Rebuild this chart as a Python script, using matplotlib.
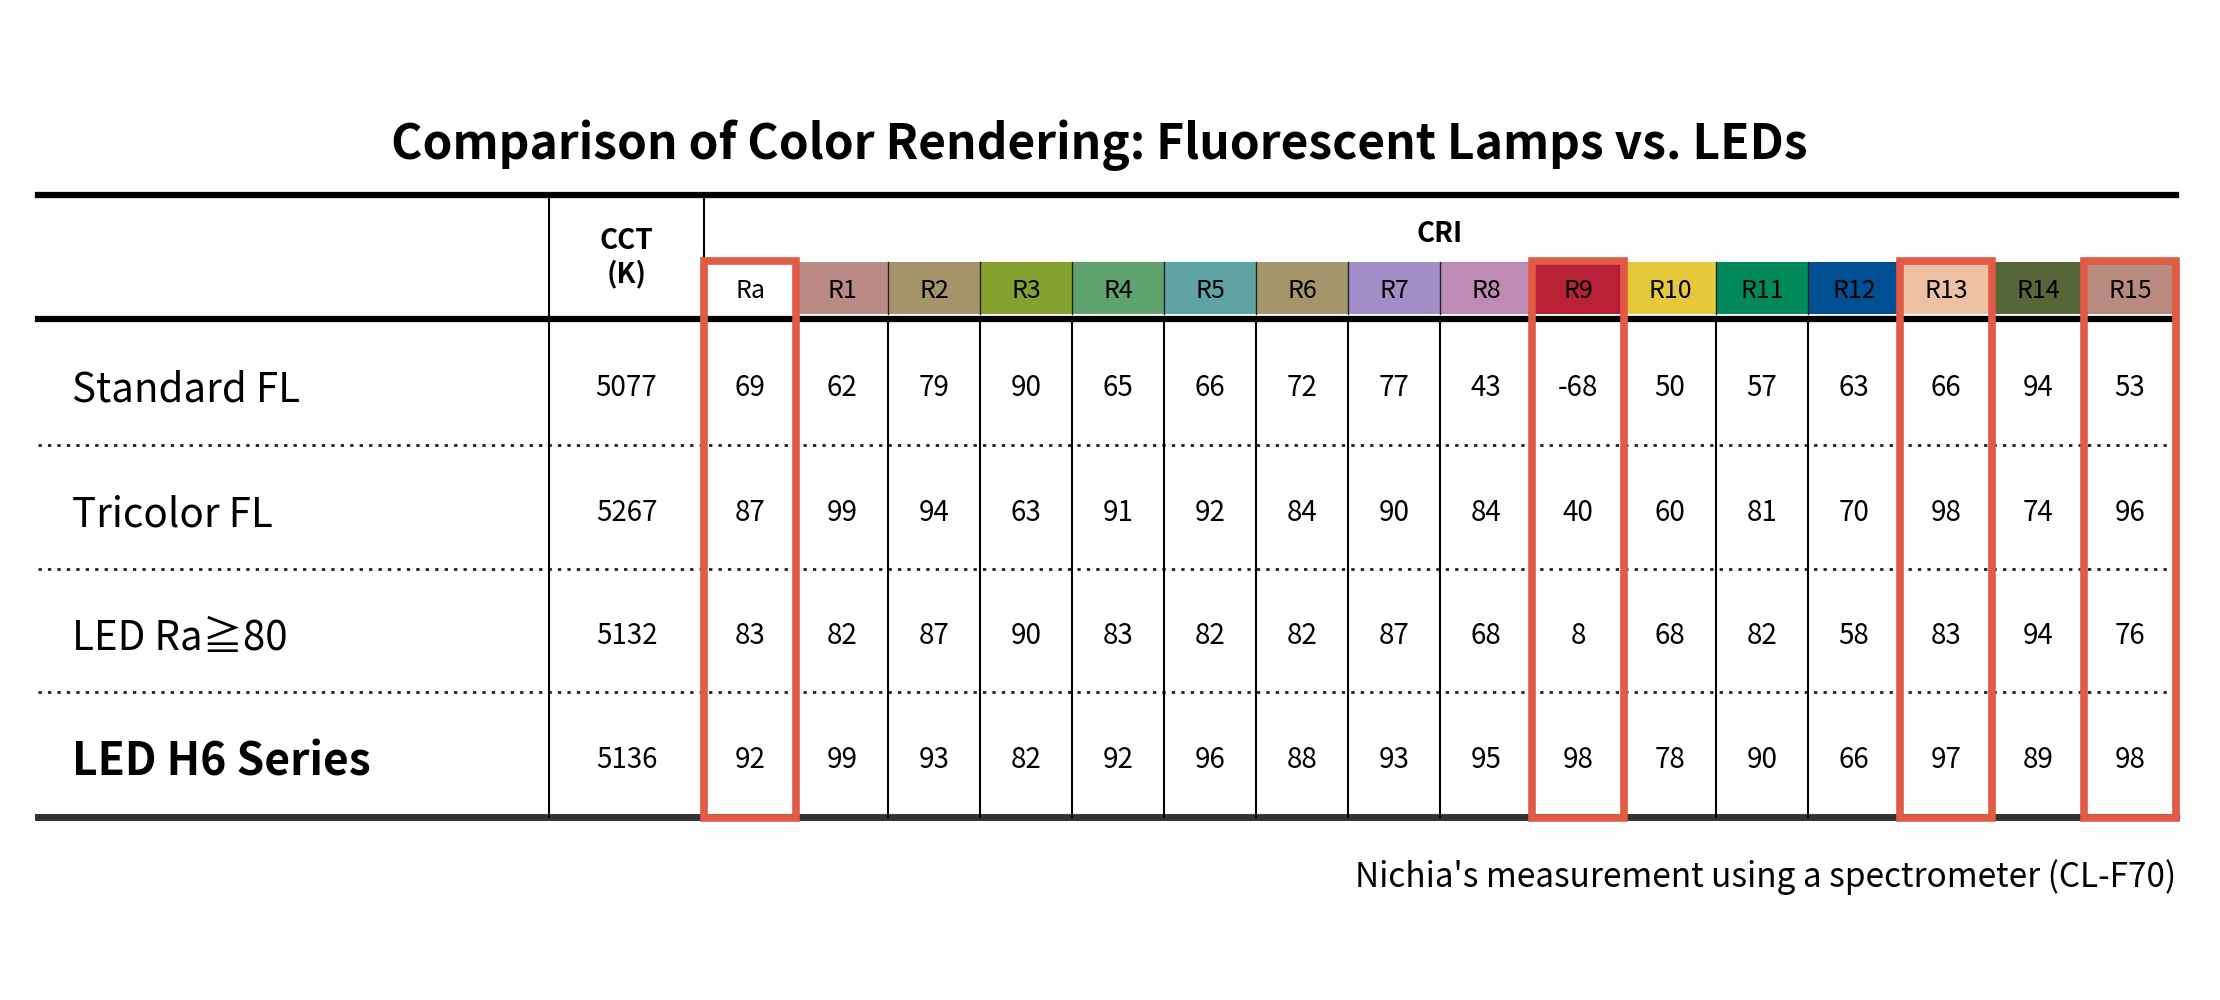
import matplotlib.pyplot as plt
from matplotlib.patches import Rectangle

plt.rcParams['font.family'] = ['Noto Sans CJK JP', 'DejaVu Sans']

# -------- Data --------
title = "Comparison of Color Rendering: Fluorescent Lamps vs. LEDs"
row_labels = ["Standard FL", "Tricolor FL", "LED Ra\u226780", "LED H6 Series"]
cct = [5077, 5267, 5132, 5136]
cri_labels = ["Ra", "R1", "R2", "R3", "R4", "R5", "R6", "R7", "R8",
              "R9", "R10", "R11", "R12", "R13", "R14", "R15"]
cri_colors = ["#ffffff", "#bb8a86", "#a5946a", "#85a22f", "#5fa26d", "#5fa3a4",
              "#a3966a", "#a18ec8", "#bd89b5", "#b82036", "#e6c83b", "#00895a",
              "#004f92", "#eec1a4", "#566639", "#b98a7e"]
cri_values = [
    [69, 62, 79, 90, 65, 66, 72, 77, 43, -68, 50, 57, 63, 66, 94, 53],
    [87, 99, 94, 63, 91, 92, 84, 90, 84, 40, 60, 81, 70, 98, 74, 96],
    [83, 82, 87, 90, 83, 82, 82, 87, 68, 8, 68, 82, 58, 83, 94, 76],
    [92, 99, 93, 82, 92, 96, 88, 93, 95, 98, 78, 90, 66, 97, 89, 98],
]
highlight = ["Ra", "R9", "R13", "R15"]
footnote = "Nichia's measurement using a spectrometer (CL-F70)"

# -------- Layout (pixels) --------
W, H = 2220, 1000
left, right = 38, 2176
cct_x0, cri_x0 = 549, 704
col_w = (right - cri_x0) / len(cri_labels)
top_line, band_top, band_bot, head_line = 195, 262, 314, 319
row_edges = [320, 445, 569, 692, 817]
red = "#e05a45"
dy = 6  # nudge text down, the CJK font sits high

fig = plt.figure(figsize=(W / 100, H / 100), dpi=100)
ax = fig.add_axes([0, 0, 1, 1])
ax.set_xlim(0, W)
ax.set_ylim(H, 0)
ax.axis("off")

ax.text(1099, 139 + dy, title, ha="center", va="center", fontsize=34.5, fontweight="bold")

# horizontal rules
ax.plot([left, right], [top_line, top_line], color="black", lw=4.5)
ax.plot([left, right], [head_line, head_line], color="black", lw=4.5)
ax.plot([left, right], [row_edges[-1], row_edges[-1]], color="#333333", lw=5)
for y in row_edges[1:-1]:
    ax.plot([left, right], [y, y], color="#222222", lw=2, ls=(0, (1.2, 2.2)))

# vertical rules for CCT column
for x in (cct_x0, cri_x0):
    ax.plot([x, x], [top_line, row_edges[-1]], color="black", lw=1.5)

# header
ax.text((cct_x0 + cri_x0) / 2, 258, "CCT\n(K)", ha="center", va="center",
        fontsize=20, fontweight="bold", linespacing=1.2)
ax.text((cri_x0 + right) / 2, 234, "CRI", ha="center", va="center",
        fontsize=20, fontweight="bold")
for i, (lab, c) in enumerate(zip(cri_labels, cri_colors)):
    x0 = cri_x0 + i * col_w
    ax.add_patch(Rectangle((x0, band_top), col_w, band_bot - band_top, color=c, lw=0))
    ax.text(x0 + col_w / 2, (band_top + band_bot) / 2 + 3, lab, ha="center", va="center",
            fontsize=18)
    if i > 0:
        ax.plot([x0, x0], [band_top, band_bot], color="#222222", lw=1)
        ax.plot([x0, x0], [head_line, row_edges[-1]], color="black", lw=1.5)

# body
for r, label in enumerate(row_labels):
    yc = (row_edges[r] + row_edges[r + 1]) / 2 + dy
    bold = r == len(row_labels) - 1
    ax.text(72, yc + 2, label, ha="left", va="center", fontsize=32 if bold else 29,
            fontweight="bold" if bold else "normal")
    ax.text((cct_x0 + cri_x0) / 2, yc, str(cct[r]), ha="center", va="center", fontsize=20)
    for i, v in enumerate(cri_values[r]):
        ax.text(cri_x0 + (i + 0.5) * col_w, yc, str(v), ha="center", va="center", fontsize=20)

# highlight boxes
for lab in highlight:
    i = cri_labels.index(lab)
    ax.add_patch(Rectangle((cri_x0 + i * col_w, 261), col_w, 557, fill=False,
                           edgecolor=red, lw=5.5, zorder=5))

ax.text(right, 871 + dy, footnote, ha="right", va="center", fontsize=24)

fig.savefig("out.png", dpi=100, facecolor="white")
